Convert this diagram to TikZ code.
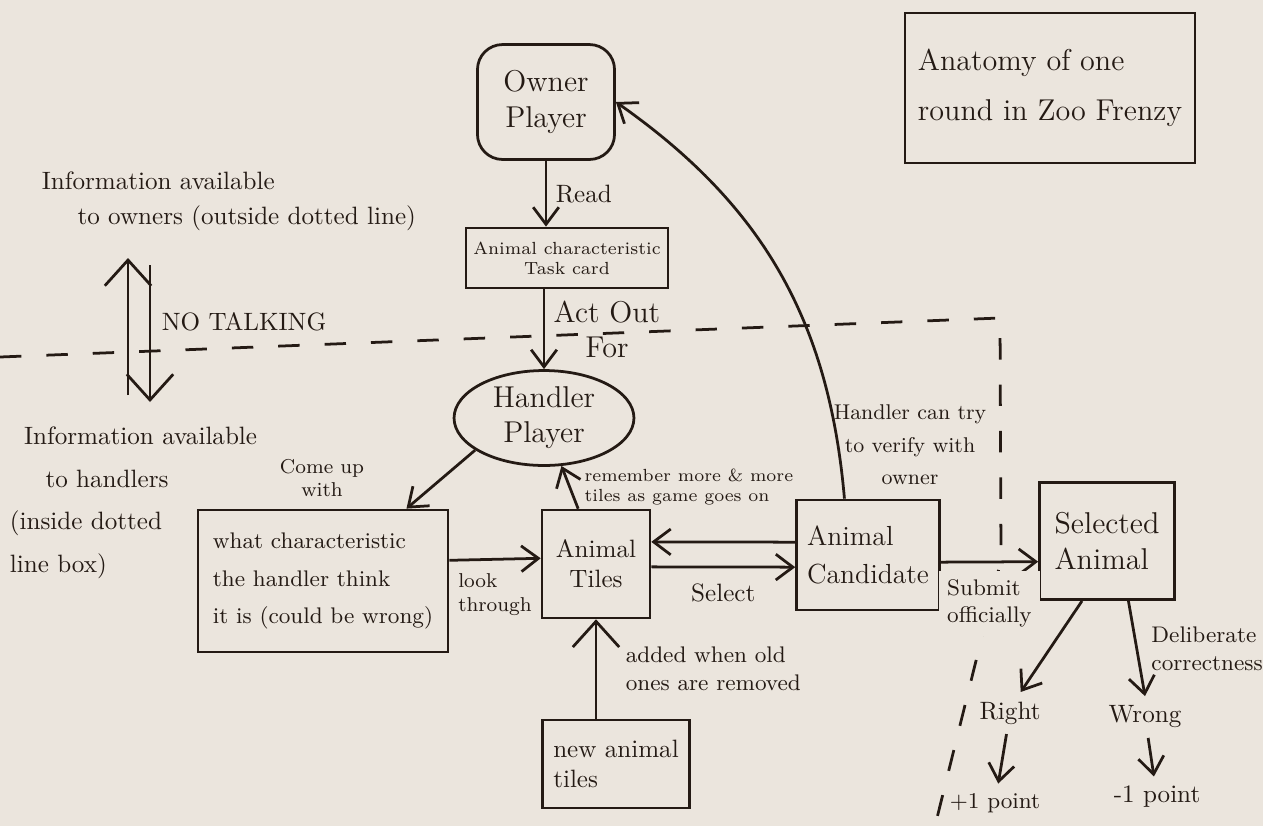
\documentclass[tikz,border=0pt]{standalone}
\usepackage{xcolor}
\usepackage{tikz}
\usetikzlibrary{shapes.geometric, arrows.meta, positioning}

\definecolor{ink}{RGB}{36,26,20}
\definecolor{paper}{RGB}{235,229,221}

\begin{document}
\begin{tikzpicture}[
    x=0.014cm, y=-0.014cm,
    color=ink, line width=1.1pt,
    >={Straight Barb[length=2.4mm,width=3.6mm]},
    box/.style={rectangle, draw, align=center, inner sep=2pt},
    roundbox/.style={rectangle, rounded corners=10pt, draw, align=center},
    oval/.style={ellipse, draw, align=center, inner xsep=1pt, inner ysep=0pt},
    note/.style={align=left, inner sep=1pt},
    bigtip/.style={-{Straight Barb[length=3.6mm,width=6.5mm]}},
    every node/.style={font=\normalsize}
]

% Sheet
\fill[paper] (0,0) rectangle (1263,826);
\useasboundingbox (0,0) rectangle (1263,826);

% Dotted boundary
\coordinate (dashL) at (0,357);
\coordinate (dashC) at (1000,318);
\coordinate (dashM) at (1001,560);
\coordinate (dashB) at (935,826);
\draw[dash pattern=on 0.3cm off 0.35cm] (dashL) -- (dashC) -- (dashM) -- (dashB);

% Owner side
\node[roundbox, minimum width=1.92cm, minimum height=1.61cm, font=\large] (owner) at (546,102) {Owner\\Player};
\node[box, minimum width=2.83cm, minimum height=0.84cm, font=\scriptsize] (card) at (567,258) {Animal characteristic\\Task card};
\node[oval, minimum width=2.52cm, minimum height=1.33cm, font=\large] (handler) at (544,418) {Handler\\Player};

% Handler side
\node[box, minimum width=3.5cm, minimum height=1.99cm, align=left, font=\fontsize{9}{15}\selectfont] (guess) at (323,581) {what characteristic\\the handler think\\it is (could be wrong)};
\node[box, minimum width=1.51cm, minimum height=1.51cm] (tiles) at (596,564) {Animal\\Tiles};
\node[box, minimum width=2.0cm, minimum height=1.54cm, align=left, font=\fontsize{11}{15}\selectfont] (cand) at (868,555) {Animal\\Candidate};
\node[box, minimum width=1.89cm, minimum height=1.64cm, align=left, font=\large] (chosen) at (1107,541) {Selected\\Animal};
\node[box, minimum width=2.06cm, minimum height=1.23cm, align=left] (newtiles) at (616,764) {new animal\\tiles};

% Outcomes
\node (right) at (1010,713) {Right};
\node (wrong) at (1145,717) {Wrong};
\node[font=\small] (plus) at (995,803) {+1 point};
\node (minus) at (1157,797) {-1 point};

% Title
\node[box, minimum width=4.06cm, minimum height=2.1cm, align=left, font=\fontsize{12}{20}\selectfont] (title) at (1050,88) {Anatomy of one\\round in Zoo Frenzy};

% Notes
\node[note, anchor=north west, font=\fontsize{10}{14}\selectfont] (ownerinfo) at (38,168) {Information available\\\hspace*{0.5cm}to owners (outside dotted line)};
\node[note, anchor=north west, font=\fontsize{10}{17}\selectfont] (handlerinfo) at (6,423) {\hspace*{0.2cm}Information available\\\hspace*{0.5cm}to handlers\\(inside dotted\\line box)};
\node[note, anchor=west] (notalk) at (158,322) {NO TALKING};
\node[note, align=center, font=\footnotesize] (comeup) at (322,478) {Come up\\with};
\node[note, fill=paper, align=center, font=\fontsize{8.5}{13}\selectfont] (verify) at (910,445) {Handler can try\\to verify with\\owner};

% No talking
\coordinate (upS) at (128,395);
\coordinate (upE) at (128,258);
\coordinate (downS) at (150,265);
\coordinate (downE) at (150,402);
\draw[bigtip] (upS) -- (upE);
\draw[bigtip] (downS) -- (downE);

% Arrows
\draw[->] (owner.south) -- node[right] {Read} (owner.south |- card.north);
\draw[->] (card.south -| handler.north) -- node[right, align=center, font=\large] {Act Out\\For} (handler.north);
\draw[->] (handler.205) -- ([xshift=-0.6cm]guess.north east);
\draw[->] ([yshift=0.29cm]guess.east) -- node[below=2pt, align=left, font=\footnotesize] {look\\through} ([yshift=0.08cm]tiles.west);
\draw[->] ([xshift=-0.25cm]tiles.north) -- node[right=2pt, align=left, font=\scriptsize] {remember more \& more\\tiles as game goes on} (handler.-70);
\draw[->] ([yshift=0.18cm]cand.west) -- ([yshift=0.31cm]tiles.east);
\draw[->] ([yshift=-0.04cm]tiles.east) -- node[below=3pt] {Select} ([yshift=-0.17cm]cand.west);
\draw[bigtip] (tiles.south |- newtiles.north) -- node[right=8pt, align=left, font=\small] {added when old\\ones are removed} (tiles.south);
\draw[->] ([xshift=-0.33cm]cand.north) to[bend right=25] (owner.east);
\draw[->] ([yshift=-0.1cm]cand.east) -- node[below=3pt, fill=paper, align=left, font=\small] {Submit\\officially} ([yshift=-0.29cm]chosen.west);
\draw[->] ([xshift=-0.35cm]chosen.south) -- ([xshift=0.15cm]right.north);
\draw[->] ([xshift=0.3cm]chosen.south) -- node[right=2pt, align=left, font=\small] {Deliberate\\correctness} (wrong.north);
\draw[->] (right) -- (plus);
\draw[->] (wrong) -- (minus);

\end{tikzpicture}
\end{document}
